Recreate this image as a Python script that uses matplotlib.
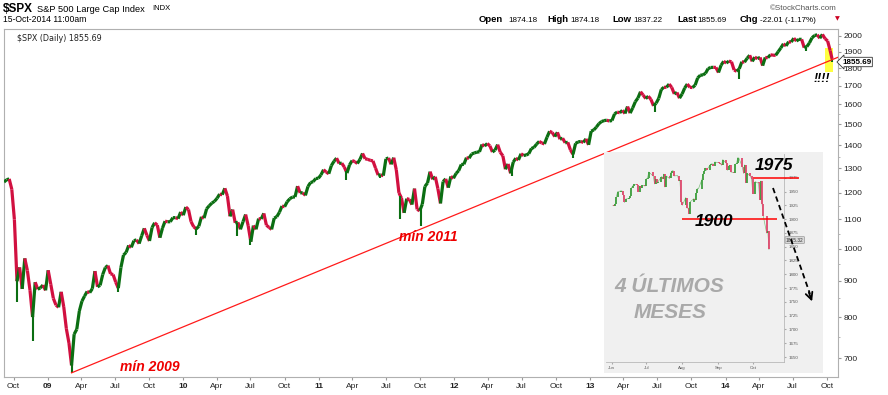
import numpy as np
import pandas as pd
import matplotlib
matplotlib.use("Agg")
from matplotlib import pyplot as plt
import matplotlib.dates as mdates
from matplotlib.collections import LineCollection
from matplotlib.patches import Rectangle, FancyArrowPatch
from matplotlib.lines import Line2D
from matplotlib.ticker import FixedLocator, NullFormatter

plt.rcParams["font.family"] = ["Liberation Sans", "DejaVu Sans"]

# weekly closes of $SPX (Friday)
closes_2008 = [1242.31, 1251.70, 1255.08, 1213.27, 1099.23, 899.22, 940.55, 876.77, 968.75,
               930.99, 873.29, 800.03, 896.24, 876.07, 879.73, 887.88, 872.80]
closes_2009 = [931.80, 890.35, 850.12, 831.95, 825.88, 868.60, 826.84, 770.05, 735.09,
               683.38, 756.55, 768.54, 815.94, 842.50, 856.56, 869.60, 866.23,
               877.52, 929.23, 882.88, 887.00, 919.14, 940.09, 946.21, 921.23, 918.90,
               896.42, 879.13, 940.38, 979.26, 987.48, 1010.48, 1004.09, 1026.13, 1028.93,
               1016.40, 1042.73, 1068.30, 1044.38, 1025.21, 1071.49, 1087.68, 1079.60, 1036.19,
               1069.30, 1093.48, 1091.38, 1091.49, 1105.98, 1106.41, 1102.47, 1126.48]
closes_2010 = [1115.10, 1144.98, 1136.03, 1091.76, 1073.87, 1066.19, 1075.51, 1109.17, 1104.49,
               1138.70, 1149.99, 1159.90, 1166.59, 1178.10, 1194.37, 1192.13, 1217.28, 1186.69,
               1110.88, 1135.68, 1087.69, 1089.41, 1064.88, 1091.60, 1117.51, 1076.76,
               1022.58, 1077.96, 1064.88, 1102.66, 1101.60, 1121.64, 1079.25, 1071.69, 1064.59,
               1104.51, 1109.55, 1125.59, 1148.67, 1146.24, 1165.15, 1176.19, 1183.08, 1183.26,
               1225.85, 1199.21, 1199.73, 1189.40, 1224.71, 1240.40, 1243.91, 1256.77, 1257.64]
closes_2011 = [1271.50, 1293.24, 1283.35, 1276.34, 1310.87, 1329.15, 1343.01, 1319.88,
               1321.15, 1304.28, 1279.20, 1313.80, 1332.41, 1328.17, 1319.68, 1337.38, 1363.61,
               1340.20, 1337.77, 1333.27, 1331.10, 1300.16, 1270.98, 1271.50, 1268.45,
               1339.67, 1343.80, 1316.14, 1345.02, 1292.28, 1199.38, 1178.81, 1123.53, 1176.80,
               1173.97, 1154.23, 1216.01, 1136.43, 1131.42, 1155.46, 1224.58, 1238.25, 1285.09,
               1253.23, 1263.85, 1215.65, 1158.67, 1244.28, 1255.19, 1219.66, 1265.33, 1257.60]
closes_2012 = [1277.81, 1289.09, 1315.38, 1316.33, 1344.90, 1342.64, 1361.23, 1365.74,
               1369.63, 1370.87, 1404.17, 1397.11, 1408.47, 1398.08, 1370.26, 1378.53, 1403.36,
               1369.10, 1353.39, 1295.22, 1317.82, 1278.04, 1325.66, 1342.84, 1335.02, 1362.16,
               1354.68, 1356.78, 1362.66, 1385.97, 1390.99, 1405.87, 1418.16, 1411.13, 1406.58,
               1437.92, 1465.77, 1460.15, 1440.67, 1460.93, 1428.59, 1433.19, 1411.94,
               1414.20, 1379.85, 1359.88, 1409.15, 1416.18, 1418.07, 1413.58, 1430.15, 1402.43]
closes_2013 = [1466.47, 1472.05, 1485.98, 1502.96, 1513.17, 1517.93, 1519.79, 1515.60,
               1518.20, 1551.18, 1560.70, 1556.89, 1569.19, 1553.28, 1588.85, 1555.25, 1582.24,
               1614.42, 1633.70, 1667.47, 1649.60, 1630.74, 1643.38, 1626.73, 1592.43, 1606.28,
               1631.89, 1680.19, 1692.09, 1691.65, 1709.67, 1691.42, 1655.83, 1663.50, 1632.97,
               1655.17, 1687.99, 1709.91, 1691.75, 1690.50, 1703.20, 1744.50, 1759.77,
               1761.64, 1770.61, 1798.18, 1804.76, 1805.81, 1805.09, 1775.32, 1818.32, 1841.40]
closes_2014 = [1831.37, 1842.37, 1838.70, 1790.29, 1782.59, 1797.02, 1838.63, 1836.25, 1859.45,
               1878.04, 1841.13, 1866.52, 1857.62, 1865.09, 1815.69, 1864.85, 1863.40,
               1881.14, 1878.48, 1877.86, 1900.53, 1923.57, 1949.44, 1936.16, 1962.87, 1960.96,
               1985.44, 1967.57, 1978.22, 1978.34, 1925.15, 1931.59, 1955.06, 1988.40, 2003.37,
               2007.71, 1985.54, 2010.40, 1982.85, 1967.90, 1906.13]
last_date = "2014-10-15"
last_price = 1855.69

# intraday swing lows
low_dates = ["2008-10-10", "2008-11-21", "2009-03-06", "2009-07-08", "2010-02-05", "2010-05-25",
             "2010-07-01", "2011-03-16", "2011-06-16", "2011-08-09", "2011-10-04", "2011-11-25",
             "2012-06-04", "2012-11-16", "2013-06-24", "2014-02-05", "2014-04-11", "2014-08-07",
             "2014-10-15"]
low_vals = [839.80, 741.02, 666.79, 869.32, 1044.50, 1040.78, 1010.91, 1249.05, 1258.07, 1101.54,
            1074.77, 1158.66, 1266.74, 1343.35, 1560.33, 1737.92, 1814.36, 1904.78, 1837.22]

# red trend line (min 2009 -> right edge)
trend_dates = ["2009-03-06", "2014-10-31"]
trend_vals = [667, 1866]

# inset: daily closes Jun - Oct 2014
inset_jun = [1924.97, 1924.24, 1927.88, 1940.46, 1949.44, 1951.27, 1950.79, 1943.89, 1930.11,
             1936.16, 1937.78, 1941.99, 1956.98, 1959.48, 1962.87, 1962.61, 1949.98, 1959.53,
             1957.22, 1960.96, 1960.23]
inset_jul = [1973.32, 1974.62, 1985.44, 1977.65, 1963.71, 1972.83, 1964.68, 1967.57, 1977.10,
             1973.28, 1981.57, 1958.12, 1978.22, 1973.63, 1983.53, 1987.01, 1987.98, 1978.34,
             1978.91, 1969.95, 1970.07, 1930.67]
inset_aug = [1925.15, 1938.99, 1920.21, 1920.24, 1909.57, 1931.59, 1936.92, 1933.75, 1946.72,
             1955.18, 1955.06, 1971.74, 1981.60, 1986.51, 1992.37, 1988.40, 1997.92, 2000.02,
             2000.12, 1996.74, 2003.37]
inset_sep = [2002.28, 2000.72, 1997.65, 2007.71, 2001.54, 1988.44, 1995.69, 1997.45, 1985.54,
             1984.13, 1998.98, 2001.57, 2011.36, 2010.40, 1994.29, 1982.77, 1998.30, 1965.99,
             1982.85, 1977.80, 1972.29]
inset_oct = [1946.16, 1946.17, 1967.90, 1964.82, 1935.10, 1968.89, 1928.21, 1906.13, 1874.74,
             1877.70, 1845.00]

y_ticks = [700, 800, 900, 1000, 1100, 1200, 1300, 1400, 1500, 1600, 1700, 1800, 1900, 2000]
inset_y_ticks = list(range(1650, 1976, 25))

UP = "#0b6e12"
DOWN = "#d11040"

W, H = 888, 395


def fx(px):
    return px / W


def fy(py):
    return 1 - py / H


fig = plt.figure(figsize=(W / 100, H / 100), dpi=100)

# ---------------- main chart ----------------
closes = (closes_2008 + closes_2009 + closes_2010 + closes_2011 + closes_2012
          + closes_2013 + closes_2014 + [last_price])
dates = list(pd.date_range("2008-09-05", "2014-10-10", freq="W-FRI")) + [pd.Timestamp(last_date)]
assert len(dates) == len(closes)
x = mdates.date2num(dates)
y = np.array(closes)

ax = fig.add_axes([fx(4), fy(377), fx(838) - fx(4), fy(29) - fy(377)])
ax.set_zorder(0)
ax.set_yscale("log")

segs = [[(x[i - 1], y[i - 1]), (x[i], y[i])] for i in range(1, len(x))]
cols = [UP if y[i] >= y[i - 1] else DOWN for i in range(1, len(x))]
ax.add_collection(LineCollection(segs, colors=cols, linewidths=2.3, zorder=3))

lx = mdates.date2num(pd.to_datetime(low_dates))
ly = np.interp(lx, x, y)
for a, lo, hi in zip(lx, low_vals, ly):
    ax.plot([a, a], [lo, hi], color=UP, lw=1.5, zorder=3, solid_capstyle="butt")

tx = mdates.date2num(pd.to_datetime(trend_dates))
ax.plot(tx, trend_vals, color="#ff1a1a", lw=0.9, zorder=4)

# yellow highlight on the last bars
hx0 = mdates.date2num(pd.Timestamp("2014-09-27"))
hx1 = mdates.date2num(pd.Timestamp("2014-10-18"))
ax.add_patch(Rectangle((hx0, 1777), hx1 - hx0, 1921 - 1777, facecolor="#ffff40",
                       edgecolor="none", zorder=2))

ax.set_xlim(mdates.date2num(pd.Timestamp("2008-09-05")), mdates.date2num(pd.Timestamp("2014-10-31")))
ax.set_ylim(658, 2046)

qs = pd.date_range("2008-10-01", "2014-10-01", freq="QS")
ax.set_xticks(mdates.date2num(qs))
ax.set_xticklabels(["%02d" % (d.year % 100) if d.month == 1 else d.strftime("%b") for d in qs])
for lab, d in zip(ax.get_xticklabels(), qs):
    if d.month == 1:
        lab.set_fontweight("bold")

ax.yaxis.tick_right()
ax.yaxis.set_major_locator(FixedLocator(y_ticks))
ax.set_yticklabels([str(t) for t in y_ticks])
ax.yaxis.set_minor_locator(FixedLocator([v + 50 for v in y_ticks[:-1]]))
ax.yaxis.set_minor_formatter(NullFormatter())
ax.tick_params(axis="both", which="major", labelsize=6, length=2, color="#999999",
               pad=2, labelcolor="#222222")
ax.tick_params(axis="y", which="minor", length=1.5, color="#aaaaaa")
for s in ax.spines.values():
    s.set_color("#b0b0b0")
    s.set_linewidth(0.8)

ax.text(0.016, 0.985, "$SPX (Daily) 1855.69", transform=ax.transAxes, fontsize=5.8,
        family="DejaVu Sans", va="top", ha="left", color="#222222")

# ---------------- inset ----------------
fig.patches.append(Rectangle((fx(604), fy(373)), fx(823) - fx(604), fy(152) - fy(373),
                             transform=fig.transFigure, facecolor="#f0f0f0",
                             edgecolor="none", zorder=1))
ax2 = fig.add_axes([fx(606), fy(362), fx(784) - fx(606), fy(154) - fy(362)])
ax2.set_zorder(2)
ax2.set_facecolor("#f0f0f0")

icl = np.array(inset_jun + inset_jul + inset_aug + inset_sep + inset_oct)
idates = pd.bdate_range("2014-06-02", "2014-10-15", freq="C",
                        holidays=["2014-07-04", "2014-09-01"])
assert len(idates) == len(icl)
ix = mdates.date2num(idates)
ax2.plot(ix, icl, color="#7fbf7f", lw=0.5, zorder=2)
for i in range(1, len(ix)):
    c = "#3f9f3f" if icl[i] >= icl[i - 1] else "#e0486e"
    ax2.plot([ix[i], ix[i]], [icl[i - 1], icl[i]], color=c, lw=1.3, zorder=3,
             solid_capstyle="butt")

ax2.set_xlim(mdates.date2num(pd.Timestamp("2014-05-27")), mdates.date2num(pd.Timestamp("2014-10-28")))
ax2.set_ylim(1641, 2018)
ax2.hlines(1900, mdates.date2num(pd.Timestamp("2014-08-01")),
           mdates.date2num(pd.Timestamp("2014-10-22")), color="#ff0000", lw=1.1, zorder=4)
ax2.hlines(1975, mdates.date2num(pd.Timestamp("2014-10-01")),
           mdates.date2num(pd.Timestamp("2014-11-10")), color="#ff0000", lw=1.1, zorder=4,
           clip_on=False)

ms = pd.date_range("2014-06-01", "2014-10-01", freq="MS")
ax2.set_xticks(mdates.date2num(ms))
ax2.set_xticklabels([d.strftime("%b") for d in ms])
ax2.yaxis.tick_right()
ax2.set_yticks(inset_y_ticks)
ax2.set_yticklabels([str(t) for t in inset_y_ticks])
ax2.tick_params(labelsize=3.2, length=1.5, pad=1.5, color="#aaaaaa", labelcolor="#555555")
for k in ["left", "top"]:
    ax2.spines[k].set_visible(False)
for k in ["right", "bottom"]:
    ax2.spines[k].set_color("#b8b8b8")
    ax2.spines[k].set_linewidth(0.6)

fig.text(fx(786), fy(240), "1855.32", fontsize=3.4, color="#333333", va="center", ha="left",
         bbox=dict(boxstyle="round,pad=0.2", facecolor="#d9d9d9", edgecolor="#888888", lw=0.4))

# dashed arrow
fig.add_artist(Line2D([fx(773), fx(810)], [fy(188), fy(294)], transform=fig.transFigure,
                      color="black", lw=1.3, ls=(0, (3, 2)), zorder=6))
fig.add_artist(FancyArrowPatch((fx(808), fy(290)), (fx(813), fy(304)),
                               transform=fig.transFigure,
                               arrowstyle="->,head_width=2.5,head_length=5",
                               color="black", lw=1.3, zorder=6))

# ---------------- annotations ----------------
fig.text(fx(774), fy(165), "1975", fontsize=12.5, weight="bold", style="italic",
         ha="center", va="center", color="black")
fig.text(fx(714), fy(222), "1900", fontsize=12.5, weight="bold", style="italic",
         ha="center", va="center", color="black")
fig.text(fx(669), fy(287), "4 ÚLTIMOS", fontsize=15, weight="bold", style="italic",
         ha="center", va="center", color="#a9a9a9")
fig.text(fx(670), fy(313), "MESES", fontsize=15, weight="bold", style="italic",
         ha="center", va="center", color="#a9a9a9")
fig.text(fx(428), fy(237), "mín 2011", fontsize=10, weight="bold", style="italic",
         ha="center", va="center", color="#ee0000")
fig.text(fx(150), fy(367), "mín 2009", fontsize=10, weight="bold", style="italic",
         ha="center", va="center", color="#ee0000")
fig.text(fx(822), fy(79), "!!!!", fontsize=9, weight="bold", style="italic",
         ha="center", va="center", color="black")
fig.text(fx(842), fy(62), "1855.69", fontsize=5.8, weight="bold", ha="left", va="center",
         color="black",
         bbox=dict(boxstyle="larrow,pad=0.15", facecolor="white", edgecolor="#333333", lw=0.6))

# ---------------- header ----------------
fig.text(fx(3), fy(9), "$SPX", fontsize=8.5, weight="bold", va="center", ha="left")
fig.text(fx(37), fy(9), "S&P 500 Large Cap Index", fontsize=6.7, va="center", ha="left")
fig.text(fx(152), fy(9), "INDX", fontsize=5.5, va="center", ha="left")
fig.text(fx(3), fy(20), "15-Oct-2014 11:00am", fontsize=6.2, va="center", ha="left")
fig.text(fx(837), fy(9), "©StockCharts.com", fontsize=5.8, va="center", ha="right",
         color="#555555")
header = [(479, "Open", True), (508, "1874.18", False), (547, "High", True),
          (570, "1874.18", False), (612, "Low", True), (633, "1837.22", False),
          (677, "Last", True), (697, "1855.69", False), (740, "Chg", True),
          (760, "-22.01 (-1.17%)", False)]
for px, s, b in header:
    fig.text(fx(px), fy(20), s, fontsize=6.8 if b else 5.8, weight="bold" if b else "normal",
             va="center", ha="left")
fig.text(fx(837), fy(19), "▼", fontsize=4.5, color="#cc0022", va="center", ha="center",
         family="DejaVu Sans")

fig.savefig("out.png", dpi=100)
